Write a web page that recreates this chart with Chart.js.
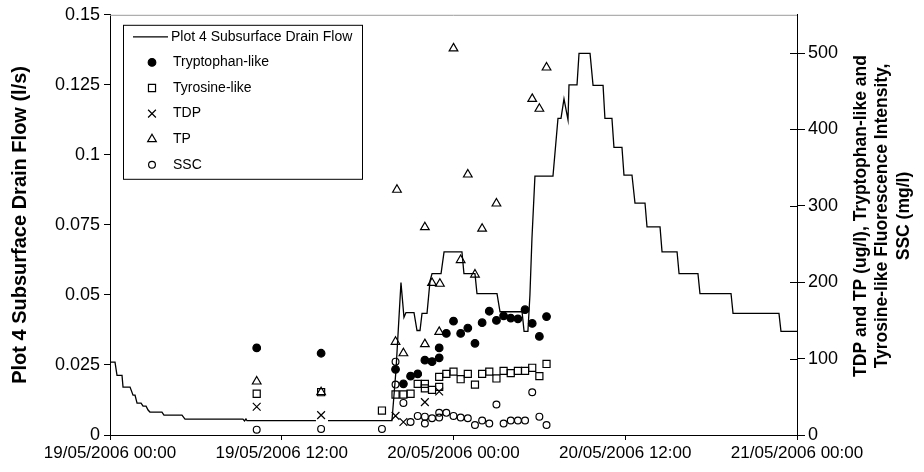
<!DOCTYPE html>
<html>
<head>
<meta charset="utf-8">
<script src="https://cdn.jsdelivr.net/npm/chart.js@4.4.0/dist/chart.umd.min.js"></script>
<style>
  html, body { margin: 0; padding: 0; background: #fff; }
  #wrap { width: 924px; height: 472px; }
</style>
</head>
<body>
<div id="wrap"><canvas id="chart" width="924" height="472"></canvas></div>
<script>
// axis labels
const xTickLabels = ['19/05/2006 00:00', '19/05/2006 12:00', '20/05/2006 00:00', '20/05/2006 12:00', '21/05/2006 00:00'];
const leftTickLabels = ['0', '0.025', '0.05', '0.075', '0.1', '0.125', '0.15'];
const rightTicks = [0, 100, 200, 300, 400, 500];
const leftTitle = 'Plot 4 Subsurface Drain Flow (l/s)';
const rightTitle = ['TDP and TP (ug/l), Tryptophan-like and', 'Tyrosine-like Fluorescence Intensity,', 'SSC (mg/l)'];

// x values are hours since 19/05/2006 00:00
const flowHours = [0, 0.35, 0.49, 0.84, 0.91, 1.40, 1.61, 1.75, 1.89, 2.17, 2.31, 2.52, 2.66, 2.79, 3.63, 3.77, 5.03, 5.24, 9.29, 9.40, 9.50, 9.57, 14.39, 14.74, 15.23, 19.70, 19.98, 20.33, 20.54, 20.68, 21.24, 21.45, 21.66, 21.80, 22.15, 22.36, 22.50, 23.13, 23.34, 24.59, 24.73, 25.50, 25.64, 27.04, 27.25, 28.79, 28.93, 29.20, 29.34, 29.48, 29.69, 30.95, 31.30, 31.51, 31.72, 32.00, 32.07, 32.63, 32.77, 33.54, 33.75, 34.45, 34.58, 35.07, 35.21, 35.77, 35.91, 36.47, 36.68, 37.38, 37.52, 38.43, 38.57, 39.62, 39.76, 41.08, 41.22, 43.39, 43.53, 46.74, 46.88, 48];
const flowValues = [0.026, 0.026, 0.0213, 0.0213, 0.0171, 0.0171, 0.0142, 0.0142, 0.0114, 0.0114, 0.0103, 0.0103, 0.0089, 0.0082, 0.0082, 0.0071, 0.0071, 0.0057, 0.0057, 0.0050, 0.0057, 0.0051, 0.0051, null, 0.0051, 0.0051, 0.023, 0.0544, 0.042, 0.0437, 0.0437, 0.0373, 0.0373, 0.0434, 0.0434, 0.055, 0.0576, 0.0576, 0.0654, 0.0654, 0.0576, 0.0576, 0.0505, 0.0505, 0.0440, 0.0440, 0.0370, 0.0370, 0.050, 0.070, 0.0924, 0.0924, 0.113, 0.113, 0.120, 0.1125, 0.125, 0.125, 0.1362, 0.1362, 0.1248, 0.1248, 0.113, 0.113, 0.1027, 0.1027, 0.0928, 0.0928, 0.0828, 0.0828, 0.0743, 0.0743, 0.0654, 0.0654, 0.0576, 0.0576, 0.0505, 0.0505, 0.0434, 0.0434, 0.037, 0.037];

const trypHours = [10.25, 14.75, 19.95, 20.5, 21.0, 21.5, 22.0, 22.5, 23.0, 23.0, 23.5, 24.0, 24.5, 25.0, 25.5, 26.0, 26.5, 27.0, 27.5, 28.0, 28.5, 29.0, 29.5, 30.0, 30.5];
const trypValues = [114, 107, 86, 67, 77, 80, 98, 96, 114, 101, 133, 149, 133, 140, 120, 147, 162, 150, 156, 153, 152, 164, 146, 129, 155];

const tyroHours = [10.25, 14.75, 19.0, 19.95, 20.5, 21.0, 21.5, 22.0, 22.0, 22.5, 23.0, 23.0, 23.5, 24.0, 24.5, 25.0, 25.5, 26.0, 26.5, 27.0, 27.5, 28.0, 28.5, 29.0, 29.5, 30.0, 30.5];
const tyroValues = [54, 56, 32, 53, 53, 54, 67, 67, 61, 59, 76, 63, 80, 83, 73, 80, 66, 80, 83, 74, 84, 81, 84, 84, 88, 77, 93];

const tdpHours = [10.25, 14.75, 19.95, 20.5, 22.0, 23.0];
const tdpValues = [37, 26, 25, 17, 43, 57];

const tpHours = [10.25, 14.75, 19.95, 20.05, 20.5, 22.0, 22.0, 22.5, 23.0, 23.05, 24.0, 24.5, 25.0, 25.5, 26.0, 27.0, 29.5, 30.0, 30.5];
const tpValues = [70, 56, 122, 321, 107, 272, 119, 199, 135, 198, 506, 229, 341, 210, 270, 303, 440, 427, 481];

const sscHours = [10.25, 14.75, 19.0, 19.95, 19.95, 20.5, 21.0, 21.5, 22.0, 22.0, 22.5, 23.0, 23.0, 23.5, 24.0, 24.5, 25.0, 25.5, 26.0, 26.5, 27.0, 27.5, 28.0, 28.5, 29.0, 29.5, 30.0, 30.5];
const sscValues = [7, 8, 8, 96, 66, 42, 17, 25, 24, 15, 22, 29, 23, 29, 25, 23, 22, 13, 19, 15, 40, 15, 19, 19, 19, 56, 24, 13];

const FONT = '"Liberation Sans", Arial, sans-serif';
Chart.defaults.font.family = FONT;
Chart.defaults.color = '#000';

function toPoints(hours, values) {
  return hours.map((h, i) => ({ x: h, y: values[i] }));
}

function markerSet(label, hours, values, style, radius, fill) {
  return {
    type: 'scatter',
    label: label,
    data: toPoints(hours, values),
    yAxisID: 'y2',
    pointStyle: style,
    pointRadius: radius,
    pointHoverRadius: radius,
    pointBorderWidth: 1.2,
    borderColor: '#000',
    backgroundColor: fill,
    showLine: false
  };
}

const datasets = [
  {
    type: 'line',
    label: 'Plot 4 Subsurface Drain Flow',
    data: toPoints(flowHours, flowValues),
    yAxisID: 'y',
    borderColor: '#000',
    borderWidth: 1.3,
    pointRadius: 0,
    tension: 0,
    spanGaps: false,
    fill: false
  },
  markerSet('Tryptophan-like', trypHours, trypValues, 'circle', 3.8, '#000'),
  markerSet('Tyrosine-like', tyroHours, tyroValues, 'rect', 5, 'rgba(0,0,0,0)'),
  markerSet('TDP', tdpHours, tdpValues, 'crossRot', 5.5, 'rgba(0,0,0,0)'),
  markerSet('TP', tpHours, tpValues, 'triangle', 5, 'rgba(0,0,0,0)'),
  markerSet('SSC', sscHours, sscValues, 'circle', 3.4, 'rgba(0,0,0,0)')
];

// legend box, right title, top border and right ticks crossing the axis
const overlay = {
  id: 'overlay',
  afterDraw(chart) {
    const { ctx, chartArea: a, scales } = chart;
    ctx.save();

    ctx.strokeStyle = '#9a9a9a';
    ctx.lineWidth = 1;
    ctx.beginPath();
    ctx.moveTo(a.left, a.top + 0.5);
    ctx.lineTo(a.right, a.top + 0.5);
    ctx.stroke();

    ctx.strokeStyle = '#000';
    rightTicks.forEach(v => {
      const y = Math.round(scales.y2.getPixelForValue(v)) + 0.5;
      ctx.beginPath();
      ctx.moveTo(a.right - 7, y);
      ctx.lineTo(a.right, y);
      ctx.stroke();
    });

    // right axis title, reads bottom to top
    ctx.fillStyle = '#000';
    ctx.font = 'bold 17.5px ' + FONT;
    ctx.textAlign = 'center';
    ctx.textBaseline = 'middle';
    ctx.translate(a.right + 64, 216);
    ctx.rotate(-Math.PI / 2);
    rightTitle.forEach((line, i) => ctx.fillText(line, 0, i * 21.5));
    ctx.setTransform(1, 0, 0, 1, 0, 0);

    // legend
    const lx = a.left + 13, ly = a.top + 10, lw = 239, lh = 154;
    ctx.fillStyle = '#fff';
    ctx.fillRect(lx, ly, lw, lh);
    ctx.strokeStyle = '#000';
    ctx.lineWidth = 1;
    ctx.strokeRect(lx + 0.5, ly + 0.5, lw, lh);
    ctx.font = '14px ' + FONT;
    ctx.textAlign = 'left';
    ctx.textBaseline = 'middle';
    chart.data.datasets.forEach((ds, i) => {
      const y = ly + 12 + i * 25.6;
      if (ds.type === 'line') {
        ctx.strokeStyle = '#000';
        ctx.lineWidth = 1.3;
        ctx.beginPath();
        ctx.moveTo(lx + 10, y);
        ctx.lineTo(lx + 45, y);
        ctx.stroke();
        ctx.fillStyle = '#000';
        ctx.fillText(ds.label, lx + 48, y);
      } else {
        ctx.fillStyle = ds.backgroundColor;
        ctx.strokeStyle = '#000';
        ctx.lineWidth = 1.2;
        Chart.helpers.drawPoint(ctx, { pointStyle: ds.pointStyle, radius: ds.pointRadius, rotation: 0, borderWidth: 1.2 }, lx + 29, y);
        ctx.fillStyle = '#000';
        ctx.fillText(ds.label, lx + 50, y);
      }
    });
    ctx.restore();
  }
};

new Chart(document.getElementById('chart'), {
  data: { datasets: datasets },
  plugins: [overlay],
  options: {
    responsive: false,
    animation: false,
    layout: { padding: { top: 13, left: 0, right: 0, bottom: 0 } },
    plugins: {
      legend: { display: false },
      tooltip: { enabled: false }
    },
    scales: {
      x: {
        type: 'linear',
        min: 0,
        max: 48,
        afterFit: s => { s.height = 37; },
        ticks: {
          stepSize: 12,
          autoSkip: false,
          maxRotation: 0,
          padding: 3,
          font: { size: 17 },
          callback: (v, i) => xTickLabels[i]
        },
        grid: { drawOnChartArea: false, tickLength: 5, tickColor: '#000' },
        border: { color: '#000', width: 1 }
      },
      y: {
        position: 'left',
        min: 0,
        max: 0.15,
        afterFit: s => { s.width = 110; },
        ticks: {
          stepSize: 0.025,
          padding: 4,
          font: { size: 18 },
          callback: (v, i) => leftTickLabels[i]
        },
        grid: { drawOnChartArea: false, tickLength: 6, tickColor: '#000' },
        border: { color: '#000', width: 1 },
        title: {
          display: true,
          text: leftTitle,
          font: { size: 20, weight: 'bold' },
          padding: { top: 8, bottom: 0 }
        }
      },
      y2: {
        position: 'right',
        min: 0,
        max: 550,
        afterFit: s => { s.width = 127; },
        afterBuildTicks: s => { s.ticks = rightTicks.map(v => ({ value: v })); },
        ticks: { padding: 3, font: { size: 18 } },
        grid: { drawOnChartArea: false, tickLength: 8, tickColor: '#000' },
        border: { color: '#000', width: 1 }
      }
    }
  }
});
</script>
</body>
</html>
